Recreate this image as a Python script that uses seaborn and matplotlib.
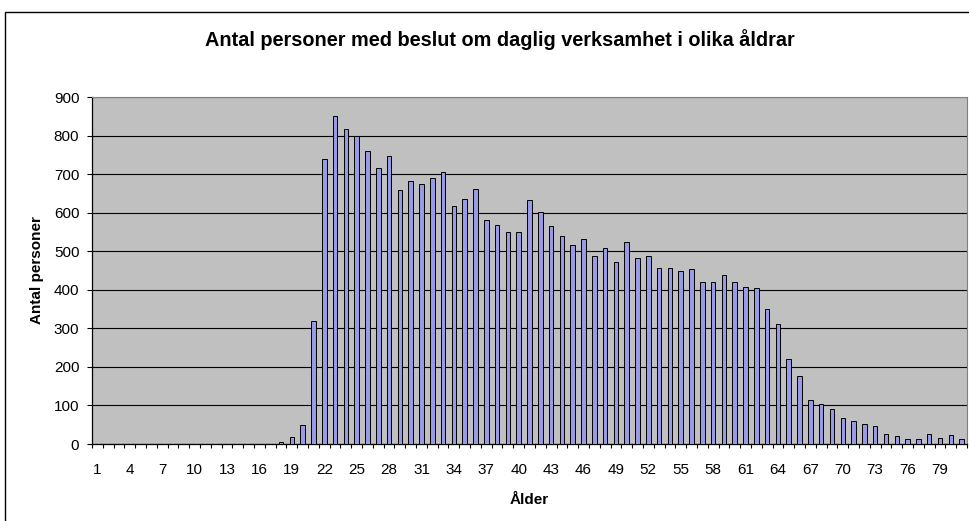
import numpy as np
import pandas as pd
import seaborn as sns
import matplotlib.pyplot as plt
from matplotlib.patches import Rectangle

# Data
ages = list(range(1, 82))
counts = [0] * 17 + [
    4, 17, 50, 318, 739, 850, 817, 800, 760, 716,          # 18-27
    746, 660, 683, 675, 689, 706, 616, 636, 662, 582,      # 28-37
    569, 549, 549, 632, 602, 565, 539, 515, 532, 488,      # 38-47
    508, 471, 525, 482, 488, 457, 457, 448, 455, 421,      # 48-57
    421, 438, 421, 407, 405, 351, 310, 220, 177, 113,      # 58-67
    104, 90, 67, 60, 51, 47, 27, 20, 13, 13,               # 68-77
    27, 16, 23, 13,                                        # 78-81
]
y_ticks = list(range(0, 901, 100))

df = pd.DataFrame({"Ålder": [str(a) for a in ages], "Antal": counts})

sns.set_theme(style="white")
plt.rcParams["font.family"] = ["Liberation Sans", "DejaVu Sans"]
plt.rcParams.update({"text.color": "black", "axes.labelcolor": "black",
                     "xtick.color": "black", "ytick.color": "black"})

fig = plt.figure(figsize=(9.69, 5.21), dpi=100)
ax = fig.add_axes([92 / 969, 1 - 444 / 521, 875 / 969, 347 / 521])
ax.set_facecolor("#C0C0C0")

sns.barplot(data=df, x="Ålder", y="Antal", order=df["Ålder"], ax=ax,
            color="#9999E6", saturation=1, width=0.42,
            edgecolor="black", linewidth=0.7, zorder=3)

ax.set_xlim(-0.5, len(ages) - 0.5)
ax.set_ylim(0, 900)
ax.set_yticks(y_ticks)
ax.set_yticklabels([str(t) for t in y_ticks], fontsize=11)
ax.yaxis.grid(True, color="black", linewidth=0.8, zorder=0)
ax.set_axisbelow(True)

# labels every third age, tick marks between categories
pos = np.arange(0, len(ages), 3)
ax.set_xticks(pos)
ax.set_xticklabels([str(ages[i]) for i in pos], fontsize=11)
ax.set_xticks(np.arange(-0.5, len(ages), 1), minor=True)
ax.tick_params(axis="x", which="major", length=0, pad=14)
ax.tick_params(axis="x", which="minor", length=3.2, width=0.8, color="black", direction="out", bottom=True)
ax.tick_params(axis="y", length=3.6, width=0.8, color="black", direction="out", left=True, pad=5.5)

for side in ["left", "bottom"]:
    ax.spines[side].set_color("black")
    ax.spines[side].set_linewidth(0.9)
for side in ["top", "right"]:
    ax.spines[side].set_color("#808080")
    ax.spines[side].set_linewidth(0.8)

ax.set_xlabel("Ålder", fontsize=11, fontweight="bold", labelpad=11)
ax.set_ylabel("Antal personer", fontsize=11, fontweight="bold", labelpad=7)

fig.text(500 / 969, 1 - 40 / 521, "Antal personer med beslut om daglig verksamhet i olika åldrar",
         ha="center", va="center", fontsize=14.3, fontweight="bold")

# outer chart frame
fig.patches.append(Rectangle((5 / 969, -0.1), 1.2, 1.1 - 12 / 521, transform=fig.transFigure,
                             fill=False, edgecolor="black", linewidth=1.0))

fig.savefig("out.png", dpi=100, facecolor="white")
